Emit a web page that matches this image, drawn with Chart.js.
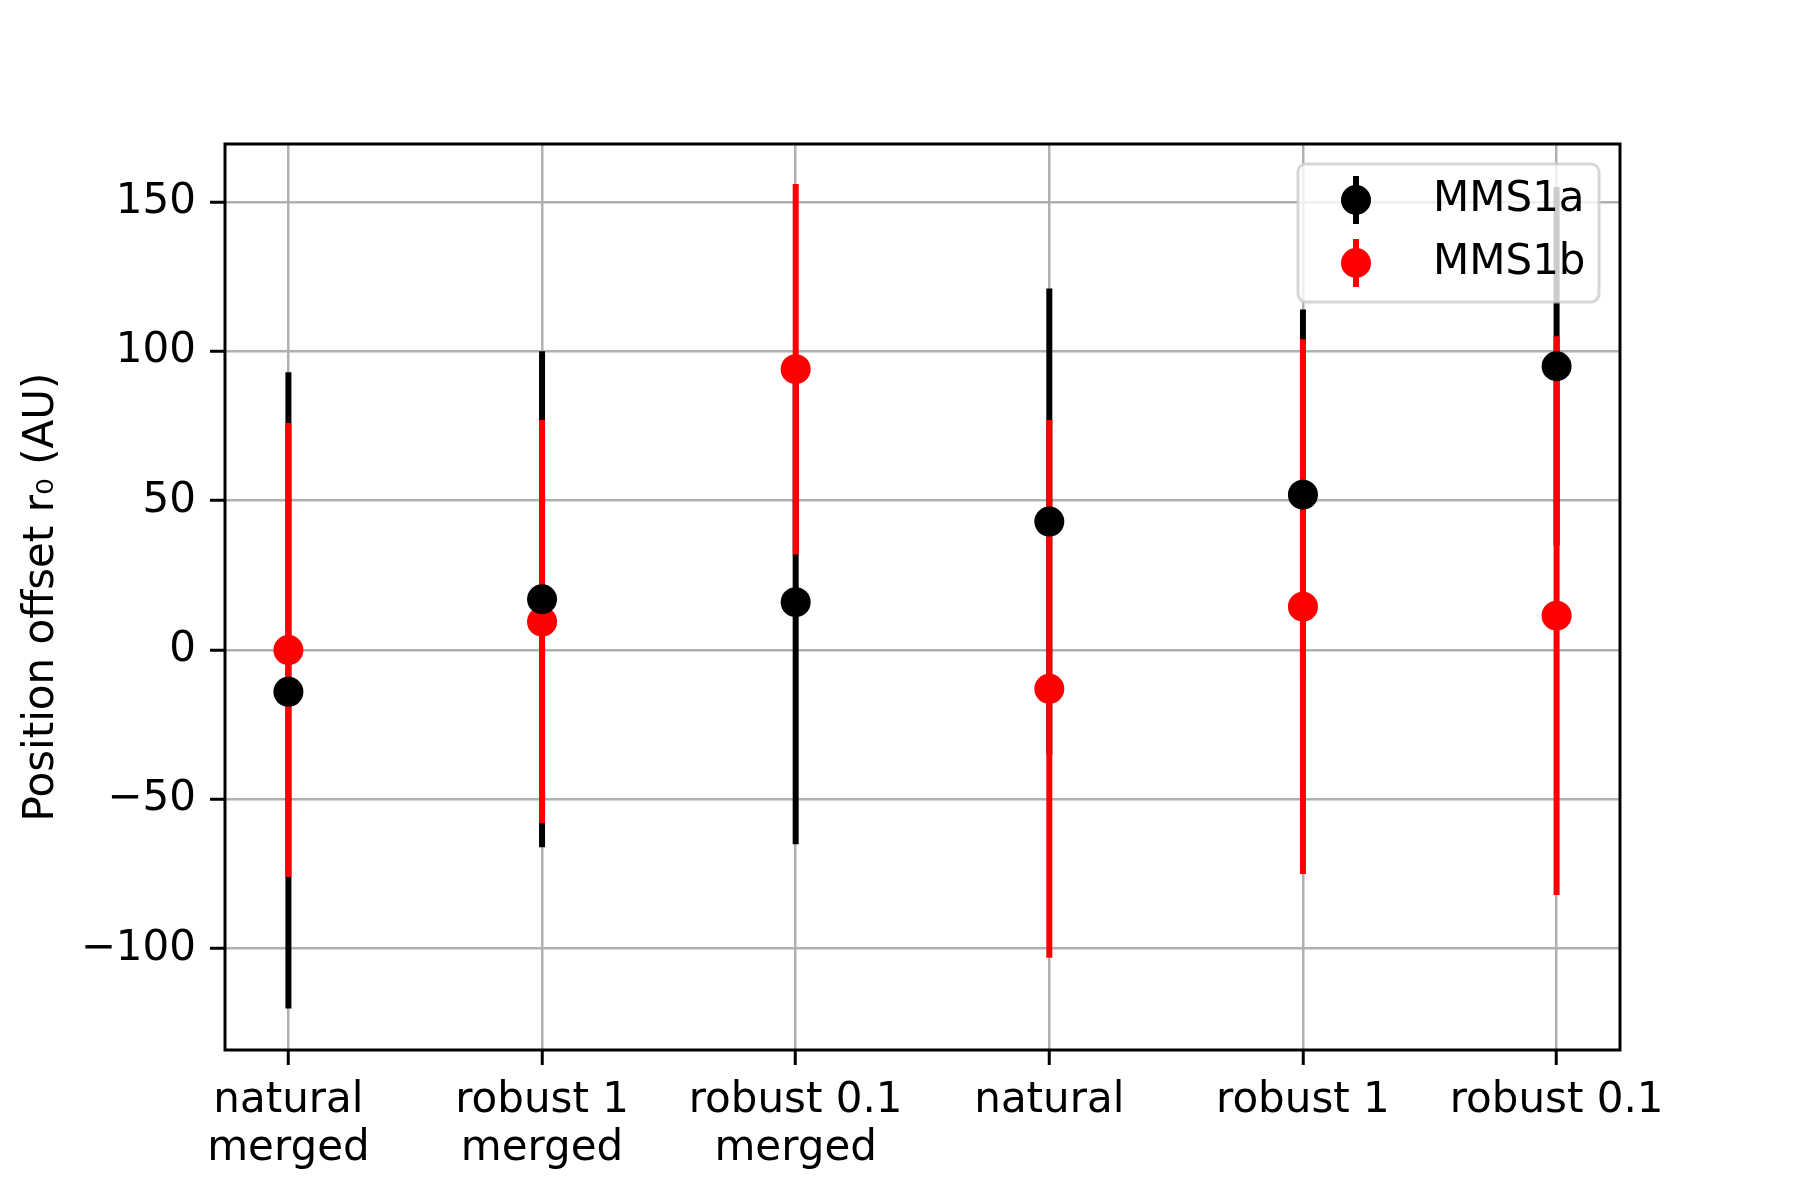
<!DOCTYPE html>
<html>
<head>
<meta charset="utf-8">
<script src="https://cdn.jsdelivr.net/npm/chart.js@4.4.0/dist/chart.umd.min.js"></script>
<style>
html, body { margin: 0; padding: 0; background: #fff; }
</style>
</head>
<body>
<canvas id="myChart" width="1800" height="1200"></canvas>
<script>
// date
var categorii = [["natural", "merged"], ["robust 1", "merged"], ["robust 0.1", "merged"], "natural", "robust 1", "robust 0.1"];
var pozitii = [0, 1, 2, 3, 4, 5];
var mms1a = [-14, 17, 16, 43, 52, 95];
var mms1a_sus = [93, 100, 96, 121, 114, 155];
var mms1a_jos = [-120, -66, -65, -35, -10, 35];
var mms1b = [0, 9.5, 94, -13, 14.5, 11.5];
var mms1b_sus = [76, 77, 156, 77, 104, 105];
var mms1b_jos = [-76, -58, 32, -103, -75, -82];
var y_ticks = [-100, -50, 0, 50, 100, 150];

var font_text = { family: 'DejaVu Sans', size: 42 };

// barele de eroare, chenarul si legenda desenate peste chart
var bare_eroare = {
    id: 'bare_eroare',
    beforeDatasetsDraw: function (chart) {
        var c = chart.ctx, sx = chart.scales.x, sy = chart.scales.y;
        [[mms1a_jos, mms1a_sus, '#000000'], [mms1b_jos, mms1b_sus, '#ff0000']].forEach(function (s) {
            c.save();
            c.strokeStyle = s[2];
            c.lineWidth = 6;
            pozitii.forEach(function (p, i) {
                var x = sx.getPixelForValue(p);
                c.beginPath();
                c.moveTo(x, sy.getPixelForValue(s[0][i]));
                c.lineTo(x, sy.getPixelForValue(s[1][i]));
                c.stroke();
            });
            c.restore();
        });
    },
    afterDraw: function (chart) {
        var c = chart.ctx, a = chart.chartArea;
        c.save();
        c.strokeStyle = '#000';
        c.lineWidth = 3;
        c.strokeRect(a.left, a.top, a.right - a.left, a.bottom - a.top);

        // legenda
        var lx = 1298, ly = 164, lw = 301, lh = 138;
        c.beginPath();
        c.roundRect(lx, ly, lw, lh, 8);
        c.fillStyle = 'rgba(255,255,255,0.8)';
        c.fill();
        c.strokeStyle = 'rgba(204,204,204,0.8)';
        c.lineWidth = 3;
        c.stroke();
        [['MMS1a', '#000000', 200], ['MMS1b', '#ff0000', 263]].forEach(function (e) {
            c.strokeStyle = e[1];
            c.fillStyle = e[1];
            c.lineWidth = 6;
            c.beginPath();
            c.moveTo(1356, e[2] - 24);
            c.lineTo(1356, e[2] + 24);
            c.stroke();
            c.beginPath();
            c.arc(1356, e[2], 15, 0, Math.PI * 2);
            c.fill();
            c.fillStyle = '#000';
            c.font = '42px "DejaVu Sans"';
            c.textBaseline = 'middle';
            c.textAlign = 'left';
            c.fillText(e[0], 1433, e[2]);
        });
        c.restore();
    }
};

var ctx = document.getElementById('myChart').getContext('2d');
new Chart(ctx, {
    type: 'scatter',
    data: {
        datasets: [{
            label: 'MMS1a',
            data: pozitii.map(function (p, i) { return { x: p, y: mms1a[i] }; }),
            backgroundColor: '#000000',
            borderColor: '#000000',
            borderWidth: 0,
            pointRadius: 15,
            pointHoverRadius: 15
        }, {
            label: 'MMS1b',
            data: pozitii.map(function (p, i) { return { x: p, y: mms1b[i] }; }),
            backgroundColor: '#ff0000',
            borderColor: '#ff0000',
            borderWidth: 0,
            pointRadius: 15,
            pointHoverRadius: 15
        }]
    },
    options: {
        responsive: false,
        animation: false,
        events: [],
        layout: { padding: { left: 0, top: 144, right: 180, bottom: 0 } },
        plugins: {
            legend: { display: false },
            tooltip: { enabled: false }
        },
        scales: {
            x: {
                type: 'linear',
                min: -0.25,
                max: 5.25,
                afterBuildTicks: function (s) { s.ticks = pozitii.map(function (v) { return { value: v }; }); },
                afterFit: function (s) { s.height = 150; },
                ticks: {
                    callback: function (v) { return categorii[v]; },
                    color: '#000',
                    font: { family: 'DejaVu Sans', size: 42, lineHeight: 1.15 },
                    padding: 12,
                    maxRotation: 0,
                    minRotation: 0,
                    autoSkip: false
                },
                grid: { color: '#b0b0b0', lineWidth: 2.5, tickColor: '#000', tickWidth: 3, tickLength: 15 },
                border: { display: false }
            },
            y: {
                min: -133.9,
                max: 169.4,
                afterBuildTicks: function (s) { s.ticks = y_ticks.map(function (v) { return { value: v }; }); },
                afterFit: function (s) { s.width = 225; },
                ticks: {
                    callback: function (v) { return v < 0 ? '\u2212' + Math.abs(v) : '' + v; },
                    color: '#000',
                    font: font_text,
                    padding: 14
                },
                grid: { color: '#b0b0b0', lineWidth: 2.5, tickColor: '#000', tickWidth: 3, tickLength: 15 },
                border: { display: false },
                title: {
                    display: true,
                    text: 'Position offset r\u2080 (AU)',
                    color: '#000',
                    font: font_text,
                    padding: { top: 17, bottom: 0 }
                }
            }
        }
    },
    plugins: [bare_eroare]
});
</script>
</body>
</html>
